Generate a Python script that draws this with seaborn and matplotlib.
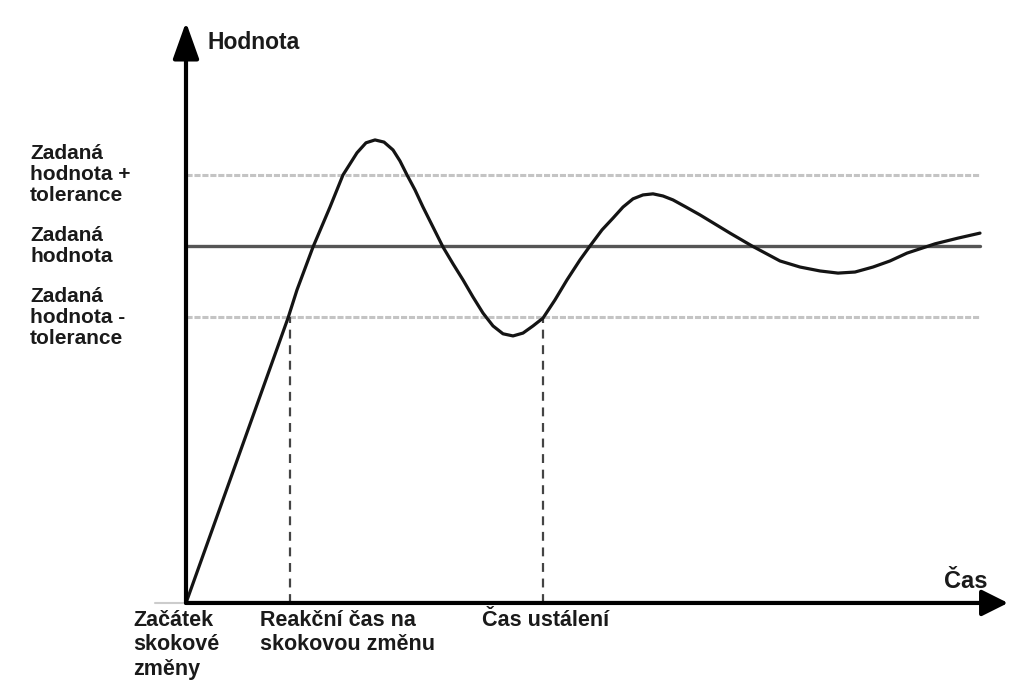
import numpy as np
import pandas as pd
import matplotlib
matplotlib.use('Agg')
import matplotlib.pyplot as plt
import seaborn as sns

# ==========================================
# Data
# ==========================================
# time axis (arbitrary units) and process value (setpoint = 1.0)
time_pts = [0.00, 1.02, 1.11, 1.27, 1.44, 1.57, 1.71, 1.80, 1.89, 1.98,
            2.07, 2.14, 2.21, 2.29, 2.37, 2.47, 2.57, 2.67, 2.77, 2.87,
            2.97, 3.07, 3.17, 3.27, 3.37, 3.47, 3.57, 3.69, 3.81, 3.94,
            4.04, 4.16, 4.27, 4.37, 4.47, 4.57, 4.67, 4.77, 4.87, 5.00,
            5.14, 5.24, 5.44, 5.66, 5.94, 6.14, 6.34, 6.52, 6.69, 6.87,
            7.04, 7.21, 7.34, 7.49, 7.72, 7.94]
value_pts = [0.000, 0.798, 0.877, 0.997, 1.109, 1.199, 1.261, 1.289, 1.297, 1.291,
             1.269, 1.238, 1.199, 1.157, 1.109, 1.053, 0.997, 0.950, 0.905, 0.857,
             0.812, 0.776, 0.754, 0.748, 0.756, 0.776, 0.798, 0.849, 0.905, 0.961,
             1.000, 1.045, 1.078, 1.109, 1.132, 1.143, 1.146, 1.140, 1.129, 1.109,
             1.087, 1.070, 1.036, 1.000, 0.958, 0.941, 0.930, 0.924, 0.927, 0.941,
             0.958, 0.980, 0.992, 1.006, 1.022, 1.036]

setpoint = 1.0
tolerance = 0.2
t_end = 7.94

# marked time instants on the x axis
marker_times = [0.0, 1.04, 3.57]
marker_labels = ['Začátek\nskokové\nzměny',
                 'Reakční čas na\nskokovou změnu',
                 'Čas ustálení']

level_labels = ['Zadaná\nhodnota +\ntolerance',
                'Zadaná\nhodnota',
                'Zadaná\nhodnota -\ntolerance']
level_values = [setpoint + tolerance, setpoint, setpoint - tolerance]

df = pd.DataFrame({'Čas': time_pts, 'Hodnota': value_pts})

# ==========================================
# Style
# ==========================================
sns.set_theme(style='white')
plt.rcParams['font.family'] = ['Liberation Sans', 'DejaVu Sans']
plt.rcParams['font.weight'] = 'bold'

fig = plt.figure(figsize=(10.11, 6.84), dpi=100)
ax = fig.add_axes([0, 0, 1, 1])
ax.set_xlim(-1.86, 8.25)
ax.set_ylim(-0.227, 1.689)
ax.axis('off')

# tolerance band lines and setpoint
for lv in (setpoint + tolerance, setpoint - tolerance):
    ax.plot([0, t_end], [lv, lv], color='#c4c4c4', lw=2.2,
            linestyle=(0, (2, 0.6)), zorder=1)
ax.plot([0, t_end], [setpoint, setpoint], color='#555555', lw=2.4, zorder=2)

# dashed drop lines for reaction / settling time
for t in marker_times[1:]:
    ax.plot([t, t], [0, setpoint - tolerance], color='#444444', lw=1.6,
            linestyle=(0, (4, 3)), zorder=1)

# step response
sns.lineplot(data=df, x='Čas', y='Hodnota', sort=False, estimator=None,
             color='#141414', lw=2.3, ax=ax, zorder=3,
             solid_joinstyle='round', solid_capstyle='round')

# axes with arrows
ax.plot([-0.31, 0], [0, 0], color='#cccccc', lw=1.5, zorder=1)
ax.annotate('', xy=(8.22, 0), xytext=(0, 0),
            arrowprops=dict(arrowstyle='-|>,head_length=1.0,head_width=0.5',
                            mutation_scale=16, lw=3, color='black',
                            shrinkA=0, shrinkB=0), zorder=4)
ax.annotate('', xy=(0, 1.627), xytext=(0, 0),
            arrowprops=dict(arrowstyle='-|>,head_length=1.4,head_width=0.5',
                            mutation_scale=16, lw=3, color='black',
                            shrinkA=0, shrinkB=0), zorder=4)

# texts
txt = dict(fontweight='bold', color='#1a1a1a')
ax.text(0.21, 1.569, 'Hodnota', ha='left', va='center', fontsize=16.5, **txt)
ax.text(7.58, 0.042, 'Čas', ha='left', va='baseline', fontsize=17, **txt)

for lbl, lv in zip(level_labels, level_values):
    ax.text(-1.56, lv, lbl, ha='left', va='center', linespacing=1.15,
            fontsize=15, **txt)

label_x = [-0.53, 0.74, 2.96]
for lbl, lx in zip(marker_labels, label_x):
    ax.text(lx, -0.02, lbl, ha='left', va='top', linespacing=1.2,
            fontsize=15.5, **txt)

fig.savefig('out.png', dpi=100)
